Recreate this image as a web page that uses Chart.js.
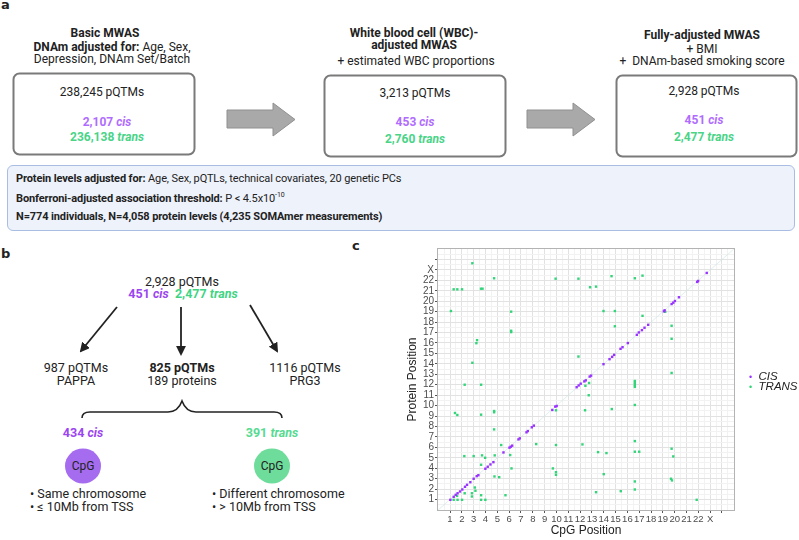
<!DOCTYPE html>
<html><head><meta charset="utf-8">
<script src="https://cdn.jsdelivr.net/npm/chart.js@4.4.1/dist/chart.umd.min.js"></script>
<style>
html,body{margin:0;padding:0;background:#fff;}
#root{position:relative;width:799px;height:540px;overflow:hidden;font-family:Roboto,"Noto Sans",sans-serif;color:#222;}
.t{position:absolute;white-space:nowrap;transform:translate(-50%,-50%);font-size:12px;line-height:14px;}
.l{position:absolute;white-space:nowrap;transform:translate(0,-50%);font-size:12px;line-height:14px;}
.b{font-weight:bold;}
.pl{color:#b06cff;font-weight:bold;}
.gr{color:#49d487;font-weight:bold;}
.pan{position:absolute;font-weight:bold;font-size:13px;font-family:"DejaVu Sans",sans-serif;}
.info{position:absolute;left:7px;top:165px;width:788px;height:66px;background:#eef2fb;border:1.5px solid #a9bde3;border-radius:6px;box-sizing:border-box;}
.info div{position:absolute;left:8px;font-family:Roboto,sans-serif;font-size:11px;letter-spacing:-0.12px;white-space:nowrap;color:#222;}
#chartBox{position:absolute;left:395px;top:240px;width:404px;height:300px;}
.lg{position:absolute;font-style:italic;font-size:11.5px;font-family:"Liberation Sans",Arial,sans-serif;color:#222;white-space:nowrap;transform:translate(0,-50%);line-height:12px;}
</style></head>
<body>
<div id="root">
<svg width="799" height="540" style="position:absolute;left:0;top:0">
  <defs>
    <marker id="ah" viewBox="0 0 10 10" refX="8" refY="5" markerWidth="5.5" markerHeight="5.5" orient="auto-start-reverse">
      <path d="M0,0 L10,5 L0,10 z" fill="#222"/>
    </marker>
  </defs>
  <rect x="13.5" y="73.5" width="181" height="81" rx="6" fill="#fff" stroke="#7a7a7a" stroke-width="2"/>
  <rect x="324.5" y="75.5" width="181" height="81" rx="6" fill="#fff" stroke="#7a7a7a" stroke-width="2"/>
  <rect x="616.5" y="75.5" width="180" height="81" rx="6" fill="#fff" stroke="#7a7a7a" stroke-width="2"/>
  <polygon points="227,110 273,110 273,103 295,119.5 273,136 273,128 227,128" fill="#a9a9a9" stroke="#909090" stroke-width="1"/>
  <polygon points="527,110 573,110 573,103 595,119.5 573,136 573,128 527,128" fill="#a9a9a9" stroke="#909090" stroke-width="1"/>
  <line x1="117" y1="307" x2="81" y2="351" stroke="#222" stroke-width="1.8" marker-end="url(#ah)"/>
  <line x1="181" y1="307" x2="181" y2="354" stroke="#222" stroke-width="1.8" marker-end="url(#ah)"/>
  <line x1="250" y1="305" x2="277" y2="351" stroke="#222" stroke-width="1.8" marker-end="url(#ah)"/>
  <path d="M82,418 Q82,412 90,412 L168,412 Q178,412 182,401 Q186,412 196,412 L274,412 Q282,412 282,418" fill="none" stroke="#222" stroke-width="1.6"/>
  <ellipse cx="83" cy="466" rx="18" ry="17.5" fill="#a66cf0"/>
  <ellipse cx="272" cy="466" rx="18" ry="17.5" fill="#6edc9a"/>
</svg>

<div class="pan" style="left:1px;top:-3px">a</div>
<div class="t b" style="left:105px;top:33px">Basic MWAS</div>
<div class="t" style="left:112px;top:47px"><b>DNAm adjusted for:</b> Age, Sex,</div>
<div class="t" style="left:112px;top:59px">Depression, DNAm Set/Batch</div>
<div class="t" style="left:102px;top:92px">238,245 pQTMs</div>
<div class="t pl" style="left:107px;top:122px">2,107 <i>cis</i></div>
<div class="t gr" style="left:107px;top:137px">236,138 <i>trans</i></div>

<div class="t b" style="left:414px;top:33px">White blood cell (WBC)-</div>
<div class="t b" style="left:414px;top:45px">adjusted MWAS</div>
<div class="t" style="left:416px;top:61px">+ estimated WBC proportions</div>
<div class="t" style="left:415px;top:93px">3,213 pQTMs</div>
<div class="t pl" style="left:415px;top:122px">453 <i>cis</i></div>
<div class="t gr" style="left:415px;top:139px">2,760 <i>trans</i></div>

<div class="t b" style="left:702px;top:35px">Fully-adjusted MWAS</div>
<div class="t" style="left:702px;top:49px">+ BMI</div>
<div class="t" style="left:702px;top:61px">+&nbsp; DNAm-based smoking score</div>
<div class="t" style="left:704px;top:91px">2,928 pQTMs</div>
<div class="t pl" style="left:704px;top:120px">451 <i>cis</i></div>
<div class="t gr" style="left:704px;top:137px">2,477 <i>trans</i></div>

<div class="info">
  <div style="top:6px"><b>Protein levels adjusted for:</b> Age, Sex, pQTLs, technical covariates, 20 genetic PCs</div>
  <div style="top:25px"><b>Bonferroni-adjusted association threshold:</b> P &lt; 4.5x10<sup style="font-size:7px">-10</sup></div>
  <div style="top:44px"><b>N=774 individuals, N=4,058 protein levels (4,235 SOMAmer measurements)</b></div>
</div>

<div class="pan" style="left:1px;top:246px">b</div>
<div class="t" style="left:182px;top:282px;font-size:12.5px">2,928 pQTMs</div>
<div class="t" style="left:183px;top:294px;font-size:12.5px"><span class="pl" style="color:#9b45f0">451 <i>cis</i></span>&nbsp;&nbsp;<span class="gr" style="color:#3fd483">2,477 <i>trans</i></span></div>
<div class="t" style="left:76px;top:368px;font-size:12.5px">987 pQTMs</div>
<div class="t" style="left:76px;top:381px;font-size:12.5px">PAPPA</div>
<div class="t b" style="left:182px;top:368px;font-size:12.5px">825 pQTMs</div>
<div class="t" style="left:182px;top:381px;font-size:12.5px">189 proteins</div>
<div class="t" style="left:305px;top:368px;font-size:12.5px">1116 pQTMs</div>
<div class="t" style="left:305px;top:381px;font-size:12.5px">PRG3</div>
<div class="t pl" style="left:83px;top:433px;font-size:12.5px;color:#9b45f0">434 <i>cis</i></div>
<div class="t gr" style="left:272px;top:433px;font-size:12.5px;color:#56da92">391 <i>trans</i></div>
<div class="t" style="left:83px;top:466px;font-size:12px">CpG</div>
<div class="t" style="left:272px;top:466px;font-size:12px">CpG</div>
<div class="l" style="left:30px;top:494px;font-size:12.5px">• Same chromosome</div>
<div class="l" style="left:30px;top:507px;font-size:12.5px">• ≤ 10Mb from TSS</div>
<div class="l" style="left:212px;top:494px;font-size:12.5px">• Different chromosome</div>
<div class="l" style="left:212px;top:507px;font-size:12.5px">• &gt; 10Mb from TSS</div>

<div class="pan" style="left:352px;top:238px">c</div>
<div id="chartBox"><canvas id="c" width="404" height="300"></canvas></div>
<div class="lg" style="left:749px;top:376px"><span style="color:#9933ff;font-style:normal;font-size:9px">•</span>&nbsp; CIS</div>
<div class="lg" style="left:749px;top:386px"><span style="color:#33d47a;font-style:normal;font-size:9px">•</span>&nbsp; TRANS</div>
</div>

<script>
// Chromosome tick labels (positions 1..24)
const chrLabels = ['1','2','3','4','5','6','7','8','9','10','11','12','13','14','15','16','17','18','19','20','21','22','X',''];
// cis pQTMs: CpG position (x) and protein position (y)
const cisX = [1.03,1.31,1.48,1.64,1.85,2.04,2.27,2.44,2.72,3.0,3.26,3.4,3.99,4.19,4.42,4.67,5.52,6.03,6.14,6.26,6.79,6.9,7.47,7.58,7.92,8.09,9.65,9.9,10.02,11.71,11.88,12.05,12.36,12.48,12.81,12.93,13.98,14.49,14.71,14.88,15.42,15.59,16.04,16.8,16.97,17.23,17.45,17.76,19.09,19.15,19.74,19.88,20.02,20.36,21.9,21.98,22.71];
const cisY = [0.97,1.26,1.45,1.6,1.77,1.96,2.22,2.41,2.66,2.99,3.24,3.33,3.95,4.14,4.36,4.58,5.51,5.97,6.06,6.16,6.76,6.86,7.44,7.56,7.92,8.08,9.58,9.9,9.96,11.76,11.93,12.1,12.32,12.42,12.78,12.87,13.97,14.45,14.67,14.86,15.44,15.6,15.99,16.78,17.01,17.23,17.46,17.74,19.03,19.13,19.73,19.86,20.02,20.38,21.85,21.94,22.71];
// trans pQTMs
const transX = [2.89,4.73,1.31,1.62,2.02,3.62,3.75,1.08,6.17,6.17,6.17,3.29,3.23,2.89,2.24,3.63,9.93,11.86,12.84,13.35,14.66,13.98,14.94,14.94,11.86,12.76,12.45,12.73,1.42,1.62,3.63,4.73,4.73,12.42,14.68,4.73,9.96,5.33,8.29,9.96,12.2,2.21,3.0,3.71,3.97,4.78,6.09,13.52,14.23,3.63,6.2,9.7,9.96,9.96,4.76,5.16,14.0,3.1,3.15,2.85,2.85,2.24,3.63,5.69,13.35,15.44,1.31,1.64,2.02,3.63,3.99,1.6,16.63,17.28,17.28,19.74,19.74,19.2,19.74,16.63,16.63,16.63,16.63,16.63,16.63,16.63,17.0,19.74,19.88,16.63,16.63,19.69,19.77,21.86];
const transY = [23.64,22.2,21.14,21.14,21.14,21.2,21.2,19.06,19.0,17.17,17.04,16.27,15.98,14.1,12.0,12.0,22.16,22.16,21.34,21.4,22.4,19.06,19.06,17.6,14.7,12.17,11.9,10.99,9.29,9.1,9.13,9.48,9.36,9.55,9.67,7.72,9.55,6.22,6.31,6.22,6.28,5.16,5.16,5.23,5.0,5.23,5.26,5.54,5.45,4.33,3.98,3.98,3.62,3.37,3.21,3.14,3.43,2.15,1.84,1.6,1.29,1.6,1.41,1.41,1.7,1.8,0.97,0.97,0.97,0.97,0.97,1.35,22.2,22.45,18.6,17.65,16.4,18.99,13.13,12.36,12.17,11.98,11.79,10.06,6.6,5.58,5.58,5.87,5.13,2.73,1.96,2.99,2.83,0.97];
// identity reference line endpoints
const diagVals = [-0.1, 25.1];
const axisMin = -0.1, axisMax = 25.1;

const gridVals = [];
for (let v = 0.5; v <= 24.5; v += 0.5) gridVals.push(v);

const isMajor = v => Math.abs(v - Math.round(v)) < 1e-6;

function axisCfg(title, fitProp, fitVal, tickSize, titlePad) {
  return {
    type: 'linear', min: axisMin, max: axisMax,
    afterBuildTicks: s => { s.ticks = gridVals.map(v => ({ value: v })); },
    afterFit: s => { s[fitProp] = fitVal; },
    ticks: {
      autoSkip: false, maxRotation: 0, padding: 1,
      color: '#4d4d4d', font: { family: 'Liberation Sans, Arial, sans-serif', size: tickSize },
      callback: v => isMajor(v) ? chrLabels[Math.round(v) - 1] : ''
    },
    grid: {
      color: c => (c.tick && isMajor(c.tick.value)) ? '#e2e2e2' : '#f2f2f2',
      tickColor: c => (c.tick && isMajor(c.tick.value)) ? '#555' : 'rgba(0,0,0,0)',
      tickLength: 2, lineWidth: 1
    },
    border: { display: false },
    title: { display: true, text: title, color: '#222', padding: titlePad,
      font: { family: 'Liberation Sans, Arial, sans-serif', size: 12 } }
  };
}

const frame = {
  id: 'frame',
  afterDatasetsDraw(chart) {
    const a = chart.chartArea, ctx = chart.ctx;
    ctx.save(); ctx.strokeStyle = '#b3b3b3'; ctx.lineWidth = 1;
    ctx.strokeRect(Math.round(a.left) + 0.5, Math.round(a.top) + 0.5, Math.round(a.right - a.left) - 1, Math.round(a.bottom - a.top) - 1);
    ctx.restore();
  }
};

new Chart(document.getElementById('c'), {
  type: 'scatter',
  data: {
    datasets: [
      { label: 'CIS', data: cisX.map((x, i) => ({ x, y: cisY[i] })), backgroundColor: '#9933ff', borderWidth: 0, pointRadius: 1.7, pointStyle: 'rect', order: 0 },
      { label: 'TRANS', data: transX.map((x, i) => ({ x, y: transY[i] })), backgroundColor: '#33d47a', borderWidth: 0, pointRadius: 1.7, pointStyle: 'rect', order: 1 },
      { type: 'line', label: 'diag', data: diagVals.map(v => ({ x: v, y: v })), borderColor: 'rgba(205,228,228,0.6)', borderWidth: 1, pointRadius: 0, order: 5 }
    ]
  },
  options: {
    responsive: false, animation: false,
    layout: { padding: { top: 8, right: 64, left: 0, bottom: 0 } },
    plugins: { legend: { display: false }, tooltip: { enabled: false } },
    scales: {
      x: axisCfg('CpG Position', 'height', 29, 9.5, { top: 0, bottom: 2 }),
      y: axisCfg('Protein Position', 'width', 42, 10, { top: 10, bottom: 0 })
    }
  },
  plugins: [frame]
});
</script>
</body></html>
